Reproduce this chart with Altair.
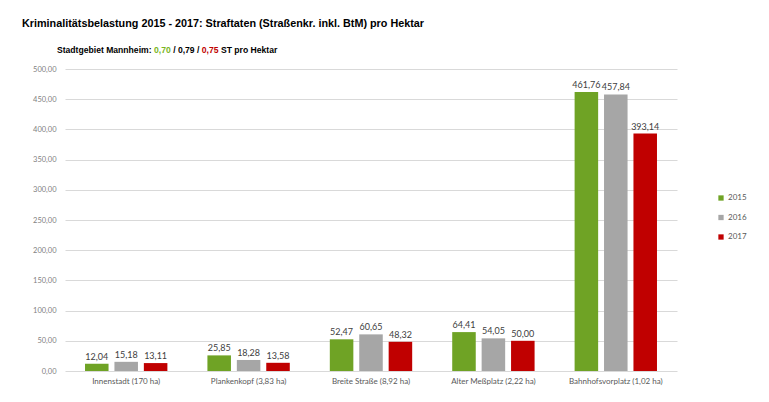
import altair as alt
import pandas as pd

categories = ["Innenstadt (170 ha)", "Plankenkopf (3,83 ha)", "Breite Straße (8,92 ha)",
              "Alter Meßplatz (2,22 ha)", "Bahnhofsvorplatz (1,02 ha)"]
years = ["2015", "2016", "2017"]
values_2015 = [12.04, 25.85, 52.47, 64.41, 461.76]
values_2016 = [15.18, 18.28, 60.65, 54.05, 457.84]
values_2017 = [13.11, 13.58, 48.32, 50.00, 393.14]
colors = ["#6fa325", "#a6a6a6", "#c00000"]
y_ticks = [0, 50, 100, 150, 200, 250, 300, 350, 400, 450, 500]

title_text = "Kriminalitätsbelastung 2015 - 2017: Straftaten (Straßenkr. inkl. BtM) pro Hektar"
sub_parts = ["Stadtgebiet Mannheim:", "0,70", "/ 0,79 /", "0,75", "ST pro Hektar"]
sub_colors = ["#000000", "#7ab51d", "#000000", "#c00000", "#000000"]

rows = []
for yr, vals in zip(years, [values_2015, values_2016, values_2017]):
    for c, v in zip(categories, vals):
        rows.append({"Gebiet": c, "Jahr": yr, "Wert": v})
df = pd.DataFrame(rows)

W, H = 612, 302
NUM_FONT = "Lato"
TITLE_FONT = "Liberation Sans"

# Arial/Liberation Sans Bold advance widths (per 1000 em) for laying out subtitle segments
ADV = {"S": 667, "t": 333, "a": 556, "d": 611, "g": 611, "e": 556, "b": 611, "i": 278,
       " ": 278, "M": 833, "n": 611, "h": 611, "m": 889, ":": 333, ",": 278, "/": 278,
       "T": 611, "p": 611, "r": 389, "o": 611, "H": 722, "k": 556}
def text_w(s, size):
    return sum(ADV.get(ch, 556) for ch in s) * size / 1000.0

y_axis = alt.Axis(values=y_ticks, labelOverlap=False,
                  labelExpr="replace(format(datum.value, '.2f'), '.', ',')",
                  labelFontSize=7.5, labelColor="#7f7f7f", labelFont=NUM_FONT,
                  ticks=False, domain=False, labelPadding=9,
                  gridColor="#d9d9d9", gridWidth=1)
y_enc = alt.Y("Wert:Q", title=None, scale=alt.Scale(domain=[0, 500], nice=False), axis=y_axis)

base = alt.Chart(df).encode(
    x=alt.X("Gebiet:N", sort=categories, title=None,
            scale=alt.Scale(paddingInner=0.327, paddingOuter=0.1635),
            axis=alt.Axis(labelAngle=0, labelFontSize=8, labelColor="#595959",
                          labelFont=NUM_FONT, ticks=False, domain=False, labelPadding=6)),
    xOffset=alt.XOffset("Jahr:N", sort=years, scale=alt.Scale(paddingInner=0.2)),
    y=y_enc,
)

bars = base.mark_bar().encode(
    color=alt.Color("Jahr:N", sort=years, scale=alt.Scale(domain=years, range=colors),
                    legend=alt.Legend(title=None, orient="none", legendX=652, legendY=125,
                                      symbolType="square", symbolSize=28, symbolStrokeWidth=0,
                                      labelFontSize=8, labelColor="#595959", labelFont=NUM_FONT,
                                      rowPadding=11.5, labelOffset=3)),
)

labels = base.mark_text(dy=-7, fontSize=9, color="#404040", font=NUM_FONT).transform_calculate(
    lab="replace(format(datum.Wert, '.2f'), '.', ',')"
).encode(
    text="lab:N",
)

one = pd.DataFrame({"a": [0]})

def txt(s, x, y, size, color="#000000", font=TITLE_FONT):
    return alt.Chart(one).mark_text(text=s, align="left", baseline="alphabetic",
                                    fontSize=size, fontWeight="bold", color=color,
                                    font=font).encode(x=alt.value(x), y=alt.value(y))

title = txt(title_text, -43, -42, 10.8)

SUB_SIZE = 8.6
sub = []
xpos = -8.0
for part, col in zip(sub_parts, sub_colors):
    sub.append(txt(part, xpos, -16, SUB_SIZE, col))
    xpos += text_w(part, SUB_SIZE) + text_w(" ", SUB_SIZE)

chart = alt.layer(bars, labels, title, *sub).properties(
    width=W, height=H,
    background="white",
    autosize=alt.AutoSizeParams(type="none"),
    padding={"left": 57, "top": 61, "right": 80, "bottom": 22},
).configure_view(strokeWidth=0)

chart.save("out.html", embed_options={"renderer": "svg", "actions": False})
